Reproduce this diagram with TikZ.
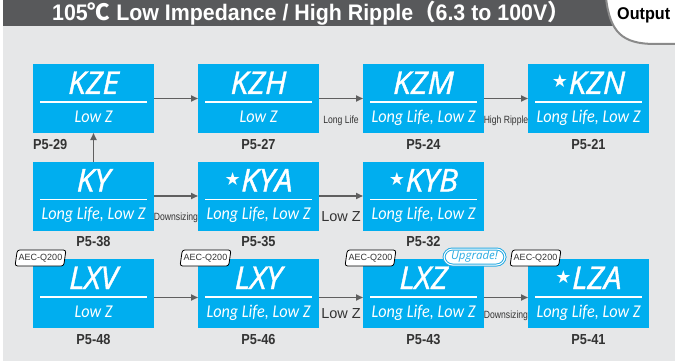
\documentclass[tikz,border=0pt]{standalone}
\usepackage{fontspec}
\setmainfont{Liberation Sans}
\newfontfamily\chipfont{Open Sans}[FakeBold=1.2]
\newfontfamily\tagfont{Open Sans}
\newfontfamily\subfont{Carlito}[FakeStretch=0.9]
\newfontfamily\narrowfont{Liberation Sans}[FakeStretch=0.82]
\newfontfamily\pagefont{Liberation Sans}[FakeStretch=0.88]
\newfontfamily\headfont{Liberation Sans}[FakeStretch=0.95]
\newfontfamily\cjk{Noto Sans CJK JP}
\newfontfamily\symfont{DejaVu Sans}
\definecolor{chipblue}{HTML}{00AEEF}
\definecolor{headgray}{HTML}{58595B}
\definecolor{panelgray}{HTML}{E6E7E8}
\definecolor{arrowgray}{HTML}{5F5F5F}
\definecolor{textgray}{HTML}{333333}
\definecolor{tabgray}{HTML}{8A8A8A}
\definecolor{upblue}{HTML}{29ABE2}
\usetikzlibrary{arrows.meta, positioning, shapes.geometric}
\tikzset{
	chipbox/.style={rectangle, fill=chipblue, minimum width=121pt, minimum height=69pt, inner sep=0pt, outer sep=0pt},
	chiptitle/.style={anchor=base, text=white, inner sep=0pt, font=\chipfont\itshape\fontsize{31.5}{31.5}\selectfont},
	chipsub/.style={anchor=base, text=white, inner sep=0pt, font=\subfont\itshape\fontsize{18}{18}\selectfont},
	chiprule/.style={draw=white, line width=1.5pt},
	pagelabel/.style={anchor=base, text=textgray, inner sep=0pt, font=\pagefont\bfseries\fontsize{14.5}{14.5}\selectfont},
	steplabel/.style={anchor=base, text=textgray, inner sep=0pt, font=\narrowfont\fontsize{10.5}{10.5}\selectfont},
	biglabel/.style={anchor=base, text=textgray, inner sep=0pt, font=\fontsize{14.5}{14.5}\selectfont},
	flowarrow/.style={-{Triangle[length=7pt, width=6pt]}, line width=1.6pt, draw=arrowgray},
	aectag/.style={trapezium, trapezium left angle=75, trapezium right angle=105, trapezium stretches=true, minimum width=51pt, minimum height=16pt, rounded corners=2.5pt, draw=black, fill=white, line width=0.8pt, inner sep=0pt, text=textgray, font=\fontsize{9}{9}\selectfont},
	uptag/.style={rectangle, rounded corners=8.5pt, draw=upblue, double=white, double distance=1pt, line width=1pt, minimum width=61pt, minimum height=16pt, inner sep=0pt, text=upblue, font=\tagfont\itshape\fontsize{11.5}{11.5}\selectfont},
}
\newcommand\chipstar{{\symfont\upshape\fontsize{18}{18}\selectfont\raisebox{6pt}{★}}\hspace{0.5pt}}
\newcommand\chip[6][]{%
	\node[chipbox, #3] (#2) {};
	\node[chiptitle] (#2-t) at ([yshift=-30pt]#2.north) {#4};
	\draw[chiprule] ([xshift=7pt, yshift=-38pt]#2.north west) -- ([xshift=-7pt, yshift=-38pt]#2.north east);
	\node[chipsub] (#2-s) at ([yshift=-58pt]#2.north) {#5};
	\node[pagelabel, #1] (#2-p) at ([yshift=-16pt]#2.south) {#6};
}

\begin{document}
\begin{tikzpicture}[x=1pt, y=-1pt, node distance=28.5pt and 44pt]
	\useasboundingbox (0,0) rectangle (675,361);
	% panel and heading
	\fill[panelgray] (0,0) rectangle (675,361);
	\fill[white] (0,0) rectangle (3,361);
	\fill[headgray] (3,0) rectangle (675,26.5);
	\filldraw[fill=white, draw=tabgray, line width=2pt] (606,-2) .. controls (610,32) and (622,44) .. (655,44) -- (678,44) -- (678,-2) -- cycle;
	\node[anchor=base, text=white, inner sep=0pt, font=\headfont\bfseries\fontsize{22.5}{22.5}\selectfont] (title) at (311,20.7) {105{\cjk ℃} Low Impedance / High Ripple{\cjk （}6.3 to 100V{\cjk ）}};
	\node[anchor=base west, inner sep=0pt, font=\headfont\bfseries\fontsize{17}{17}\selectfont] (output) at (617,20) {Output};

	% first row
	\chip[anchor=base west, xshift=-60.5pt]{kze}{at={(93.5,98.5)}}{KZE}{Low Z}{P5-29}
	\chip{kzh}{right=of kze}{KZH}{Low Z}{P5-27}
	\chip{kzm}{right=of kzh}{KZM}{Long Life, Low Z}{P5-24}
	\chip{kzn}{right=of kzm}{\chipstar KZN}{Long Life, Low Z}{P5-21}
	% second row
	\chip{ky}{below=of kze}{KY}{Long Life, Low Z}{P5-38}
	\chip{kya}{right=of ky}{\chipstar KYA}{Long Life, Low Z}{P5-35}
	\chip{kyb}{right=of kya}{\chipstar KYB}{Long Life, Low Z}{P5-32}
	% third row
	\chip{lxv}{below=of ky}{LXV}{Low Z}{P5-48}
	\chip{lxy}{right=of lxv}{LXY}{Long Life, Low Z}{P5-46}
	\chip{lxz}{right=of lxy}{LXZ}{Long Life, Low Z}{P5-43}
	\chip{lza}{right=of lxz}{\chipstar LZA}{Long Life, Low Z}{P5-41}

	\draw[flowarrow] (kze) -- (kzh);
	\draw[flowarrow] (kzh) -- node[steplabel, yshift=-24.5pt] (kzh-kzm) {Long Life} (kzm);
	\draw[flowarrow] (kzm) -- node[steplabel, yshift=-24.5pt] (kzm-kzn) {High Ripple} (kzn);
	\draw[flowarrow] (ky) -- (kze);
	\draw[flowarrow] (ky) -- node[steplabel, yshift=-24.5pt] (ky-kya) {Downsizing} (kya);
	\draw[flowarrow] (kya) -- node[biglabel, yshift=-25pt] (kya-kyb) {Low Z} (kyb);
	\draw[flowarrow] ([yshift=-4pt]lxv.east) -- ([yshift=-4pt]lxy.west);
	\draw[flowarrow] ([yshift=-4pt]lxy.east) -- node[biglabel, yshift=-21pt] (lxy-lxz) {Low Z} ([yshift=-4pt]lxz.west);
	\draw[flowarrow] ([yshift=-4pt]lxz.east) -- node[steplabel, yshift=-20.5pt] (lxz-lza) {Downsizing} ([yshift=-4pt]lza.west);

	% tags
	\node[aectag] (lxv-aec) at ([xshift=7.5pt, yshift=1pt]lxv.north west) {AEC-Q200};
	\node[aectag] (lxy-aec) at ([xshift=7.5pt, yshift=1pt]lxy.north west) {AEC-Q200};
	\node[aectag] (lxz-aec) at ([xshift=7.5pt, yshift=1pt]lxz.north west) {AEC-Q200};
	\node[aectag] (lza-aec) at ([xshift=7.5pt, yshift=1pt]lza.north west) {AEC-Q200};
	\node[uptag, fill=white] (lxz-up) at ([xshift=-9.5pt, yshift=2pt]lxz.north east) {Upgrade!};
\end{tikzpicture}
\end{document}
